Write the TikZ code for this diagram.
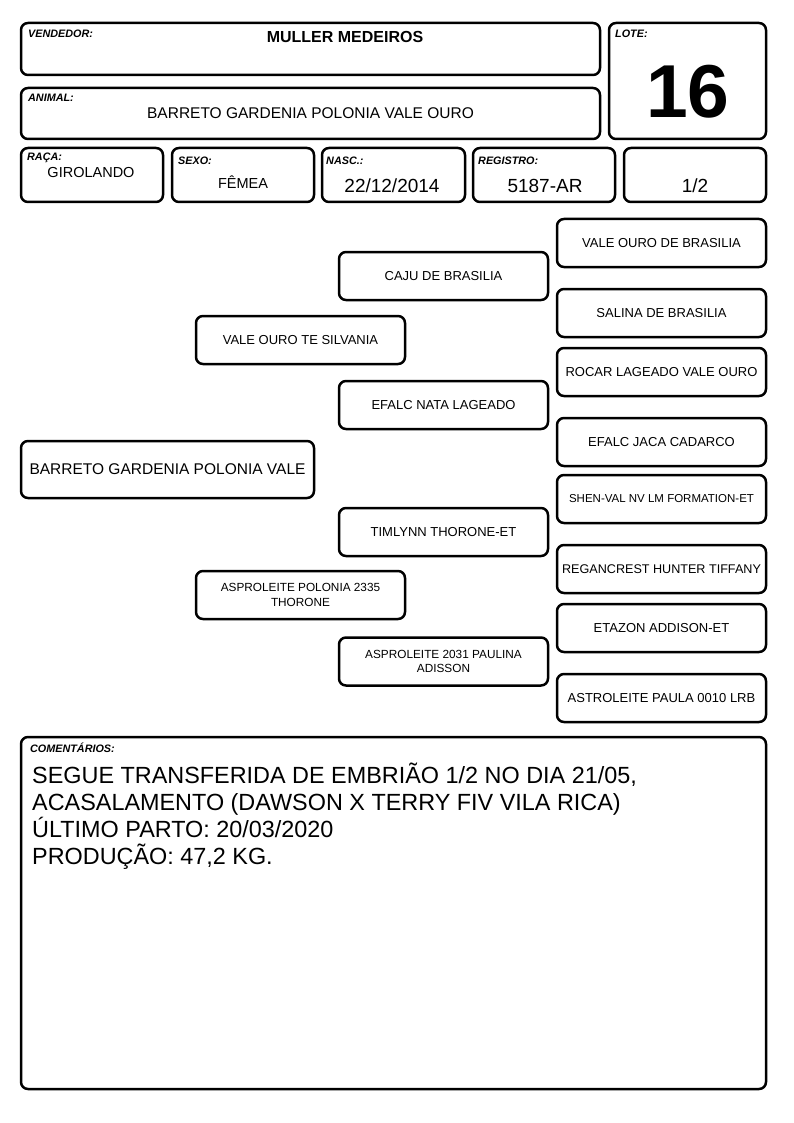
\documentclass[tikz,border=0pt]{standalone}
\usepackage{fontspec}
\setmainfont{Liberation Sans}
\usetikzlibrary{positioning}

\newcommand{\fs}[1]{\fontsize{#1}{#1}\selectfont}

\begin{document}
\begin{tikzpicture}[
    x=1pt, y=-1pt,
    box/.style={draw, line width=2.5pt, rounded corners=7pt, inner sep=0pt, align=center},
    field/.style={box, minimum width=142pt, minimum height=54pt},
    ped/.style={box, minimum width=209pt, minimum height=48pt, font=\fs{13}},
    small/.style={font=\fontsize{11.8}{14.5}\selectfont},
    lbl/.style={anchor=base west, inner sep=0pt, font=\fs{10.8}\bfseries\itshape},
    val/.style={anchor=base, inner sep=0pt}]
  \useasboundingbox (0,0) rectangle (794,1123);

  % header
  \node[box, minimum width=579pt, minimum height=52pt] (vend) at (310.5,49) {};
  \node[box, minimum width=157pt, minimum height=116pt] (lote) at (687.5,81) {};
  \node[box, minimum width=579pt, minimum height=51pt] (animal) at (310.5,113.5) {};
  \node[field] (raca) at (92,175) {};
  \node[field] (sexo) at (243,175) {};
  \node[field, minimum width=143pt] (nasc) at (393.5,175) {};
  \node[field] (reg) at (544,175) {};
  \node[field] (frac) at (695,175) {};

  \node[lbl] (vendlbl) at (28,38) {VENDEDOR:};
  \node[lbl] (lotelbl) at (615,38) {LOTE:};
  \node[lbl] (animallbl) at (28,102) {ANIMAL:};
  \node[lbl] (racalbl) at (27,161) {RAÇA:};
  \node[lbl] (sexolbl) at (178,165) {SEXO:};
  \node[lbl] (nasclbl) at (326,165) {NASC.:};
  \node[lbl] (reglbl) at (478,165) {REGISTRO:};

  \node[val, font=\fs{16}\bfseries] (vendval) at (345,43) {MULLER MEDEIROS};
  \node[val, font=\fs{75}\bfseries] (loteval) at (688,118) {16};
  \node[val, font=\fs{15.5}] (animalval) at (310.5,119) {BARRETO GARDENIA POLONIA VALE OURO};
  \node[val, font=\fs{14.5}] (racaval) at (91,178) {GIROLANDO};
  \node[val, font=\fs{14.5}] (sexoval) at (243,189) {FÊMEA};
  \node[val, font=\fs{19}] (nascval) at (392,193) {22/12/2014};
  \node[val, font=\fs{19}] (regval) at (545,193) {5187-AR};
  \node[val, font=\fs{19}] (fracval) at (695,193) {1/2};

  % pedigree
  \node[box, minimum width=293pt, minimum height=57pt, font=\fs{15.5}] (self) at (167.5,469.5)
        {BARRETO GARDENIA POLONIA VALE};
  \node[ped] (sire) at (300.5,340) {VALE OURO TE SILVANIA};
  \node[ped, small] (dam) at (300.5,595) {ASPROLEITE POLONIA 2335\\ THORONE};
  \node[ped] (ssire) at (443.5,276) {CAJU DE BRASILIA};
  \node[ped] (sdam) at (443.5,405) {EFALC NATA LAGEADO};
  \node[ped] (dsire) at (443.5,532) {TIMLYNN THORONE-ET};
  \node[ped, small] (ddam) at (443.5,661.5) {ASPROLEITE 2031 PAULINA\\ ADISSON};
  \node[ped] (sss) at (661.5,243) {VALE OURO DE BRASILIA};
  \node[ped] (ssd) at (661.5,313) {SALINA DE BRASILIA};
  \node[ped] (sds) at (661.5,372) {ROCAR LAGEADO VALE OURO};
  \node[ped] (sdd) at (661.5,442) {EFALC JACA CADARCO};
  \node[ped, font=\fs{11.5}] (dss) at (661.5,499) {SHEN-VAL NV LM FORMATION-ET};
  \node[ped, font=\fs{12.6}] (dsd) at (661.5,569) {REGANCREST HUNTER TIFFANY};
  \node[ped] (dds) at (661.5,628) {ETAZON ADDISON-ET};
  \node[ped] (ddd) at (661.5,698) {ASTROLEITE PAULA 0010 LRB};

  % comments
  \node[box, minimum width=745pt, minimum height=352pt] (coment) at (393.5,913) {};
  \node[lbl] (comentlbl) at (30,752) {COMENTÁRIOS:};
  \node[anchor=base west, inner sep=0pt, align=left, font=\fontsize{23.4}{27}\selectfont] (comentval) at (32,864)
        {SEGUE TRANSFERIDA DE EMBRIÃO 1/2 NO DIA 21/05,\\
         ACASALAMENTO (DAWSON X TERRY FIV VILA RICA)\\
         ÚLTIMO PARTO: 20/03/2020\\
         PRODUÇÃO: 47,2 KG.};
\end{tikzpicture}
\end{document}
